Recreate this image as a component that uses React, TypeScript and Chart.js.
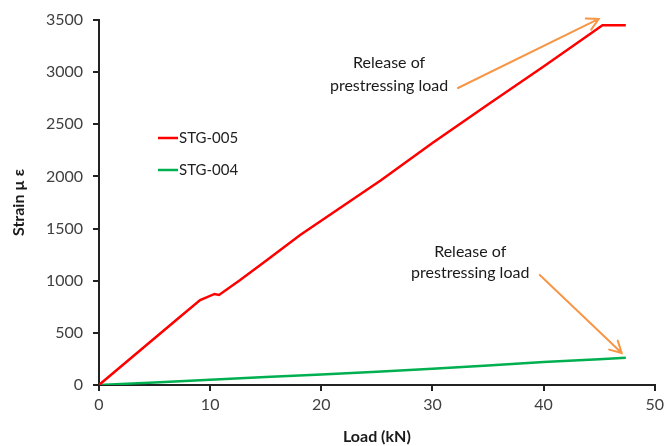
import React, { useEffect, useRef } from "react";
import { Chart, registerables } from "chart.js";

Chart.register(...registerables);

const stg005Load = [0, 7.3, 9.1, 10.4, 10.8, 12.7, 15, 18.1, 25.4, 30, 35, 40, 44.5, 45.3, 47.4];
const stg005Strain = [0, 655, 815, 873, 863, 1007, 1190, 1438, 1966, 2320, 2690, 3055, 3390, 3450, 3450];
const stg004Load = [0, 5, 10, 15, 20, 25, 30, 35, 40, 45, 47.4];
const stg004Strain = [0, 25, 50, 77, 100, 128, 157, 188, 220, 248, 262];

const seriesNames = ["STG-005", "STG-004"];
const seriesColors = ["#FF0000", "#00B050"];
const annotationText = ["Release of", "prestressing load"];
const xTitle = "Load (kN)";
const yTitle = "Strain µ ε";

const FONT = "Lato, 'Open Sans', sans-serif";
const ORANGE = "#F79646";

const zip = (xs: number[], ys: number[]) => xs.map((x, i) => ({ x, y: ys[i] }));

const overlayPlugin = {
  id: "overlay",
  afterDatasetsDraw(chart: any) {
    const ctx = chart.ctx;
    const xs = chart.scales.x;
    const ys = chart.scales.y;
    const px = (v: number) => xs.getPixelForValue(v);
    const py = (v: number) => ys.getPixelForValue(v);
    ctx.save();

    // legend
    const ca = chart.chartArea;
    const legendRows = [ca.top + 118, ca.top + 150];
    seriesNames.forEach((name, i) => {
      const y = legendRows[i];
      ctx.strokeStyle = seriesColors[i];
      ctx.lineWidth = 2.5;
      ctx.beginPath();
      ctx.moveTo(ca.left + 59, y);
      ctx.lineTo(ca.left + 79, y);
      ctx.stroke();
      ctx.fillStyle = "#222";
      ctx.font = `15px ${FONT}`;
      ctx.textAlign = "left";
      ctx.textBaseline = "middle";
      ctx.fillText(name, ca.left + 80, y);
    });

    // annotations
    const drawText = (cx: number, y1: number, y2: number) => {
      ctx.fillStyle = "#1a1a1a";
      ctx.font = `16px ${FONT}`;
      ctx.textAlign = "center";
      ctx.textBaseline = "middle";
      ctx.fillText(annotationText[0], px(cx), py(y1));
      ctx.fillText(annotationText[1], px(cx), py(y2));
    };
    const drawArrow = (x0: number, y0: number, x1: number, y1: number) => {
      const ax = px(x0), ay = py(y0), bx = px(x1), by = py(y1);
      ctx.strokeStyle = ORANGE;
      ctx.lineWidth = 2;
      ctx.lineCap = "round";
      ctx.beginPath();
      ctx.moveTo(ax, ay);
      ctx.lineTo(bx, by);
      const ang = Math.atan2(by - ay, bx - ax);
      const L = 13;
      const spread = 0.5;
      ctx.moveTo(bx - L * Math.cos(ang - spread), by - L * Math.sin(ang - spread));
      ctx.lineTo(bx, by);
      ctx.lineTo(bx - L * Math.cos(ang + spread), by - L * Math.sin(ang + spread));
      ctx.stroke();
    };
    drawText(26.1, 3088, 2867);
    drawArrow(32.3, 2848, 44.96, 3510);
    drawText(33.4, 1275, 1074);
    drawArrow(39.66, 1055, 47.03, 307);
    ctx.restore();
  },
};

export default function App() {
  const ref = useRef<HTMLCanvasElement | null>(null);
  useEffect(() => {
    if (!ref.current) return;
    const chart = new Chart(ref.current, {
      type: "line",
      data: {
        datasets: [
          {
            label: seriesNames[0],
            data: zip(stg005Load, stg005Strain),
            borderColor: seriesColors[0],
            borderWidth: 2.5,
            pointRadius: 0,
            tension: 0,
            fill: false,
          },
          {
            label: seriesNames[1],
            data: zip(stg004Load, stg004Strain),
            borderColor: seriesColors[1],
            borderWidth: 2.5,
            pointRadius: 0,
            tension: 0,
            fill: false,
          },
        ],
      },
      options: {
        animation: false,
        responsive: false,
        maintainAspectRatio: false,
        layout: { padding: { left: 0, right: 13, top: 20, bottom: 0 } },
        plugins: { legend: { display: false }, tooltip: { enabled: false } },
        scales: {
          x: {
            type: "linear",
            min: 0,
            max: 50,
            ticks: { stepSize: 10, color: "#404040", font: { family: FONT, size: 16 }, padding: 4, callback: (v: any) => String(v) },
            grid: { drawOnChartArea: false, drawTicks: true, tickLength: 6, color: "#222", lineWidth: 2 },
            border: { display: true, color: "#222", width: 2 },
            title: { display: true, text: xTitle, color: "#1a1a1a", font: { family: FONT, size: 16, weight: "bold" }, padding: { top: 3, bottom: 0 } },
            afterFit: (s: any) => { s.height = 61; },
          },
          y: {
            type: "linear",
            min: 0,
            max: 3500,
            ticks: { stepSize: 500, color: "#404040", font: { family: FONT, size: 16 }, padding: 10, callback: (v: any) => String(v) },
            grid: { drawOnChartArea: false, drawTicks: true, tickLength: 6, color: "#222", lineWidth: 2 },
            border: { display: true, color: "#222", width: 2 },
            title: { display: true, text: yTitle, color: "#1a1a1a", font: { family: FONT, size: 16, weight: "bold" }, padding: { top: 9, bottom: 4 } },
            afterFit: (s: any) => { s.width = 99; },
          },
        },
      },
      plugins: [overlayPlugin],
    } as any);
    return () => chart.destroy();
  }, []);
  return (
    <div style={{ position: "fixed", left: 0, top: 0, width: 668, height: 446, background: "#fff" }}>
      <canvas ref={ref} width={668} height={446} style={{ width: 668, height: 446 }} />
    </div>
  );
}
